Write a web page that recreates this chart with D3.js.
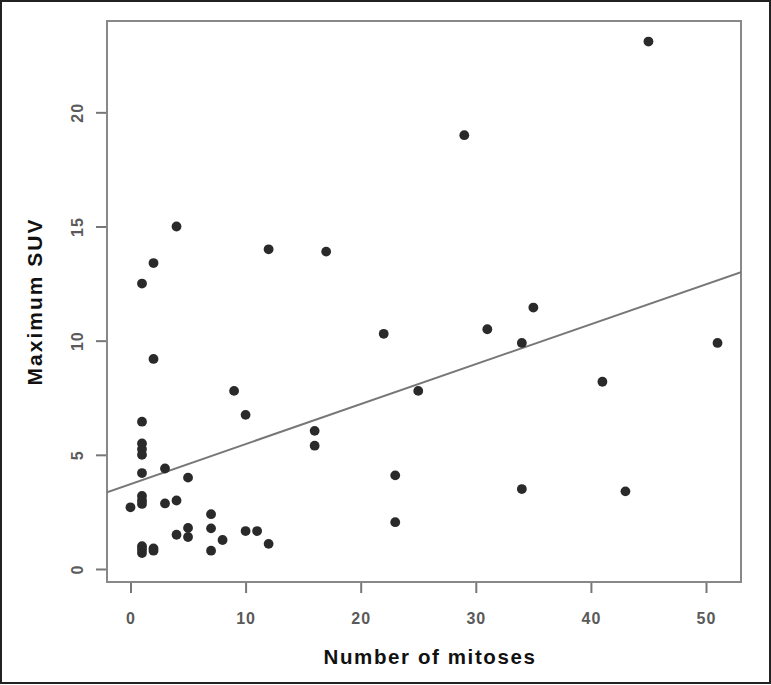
<!DOCTYPE html>
<html>
<head>
<meta charset="utf-8">
<script src="https://cdn.jsdelivr.net/npm/d3@7"></script>
<style>
  body { margin: 0; background: #fff; }
  svg { display: block; }
</style>
</head>
<body>
<div class="canvas"></div>
<script>
// data
var mitoses = [45, 29, 4, 12, 17, 2, 1, 35, 31, 22, 34, 51, 2, 41, 9, 25, 10, 1, 16,
  1, 1, 1, 16, 3, 1, 23, 5, 1, 1, 1, 0, 3, 4, 7, 23, 34, 43,
  5, 7, 5, 4, 8, 10, 11, 12, 7, 1, 1, 1, 2, 2];
var suv = [23.1, 19.0, 15.0, 14.0, 13.9, 13.4, 12.5, 11.45, 10.5, 10.3, 9.9, 9.9, 9.2, 8.2, 7.8, 7.8, 6.75, 6.45, 6.05,
  5.5, 5.25, 5.0, 5.4, 4.4, 4.2, 4.1, 4.0, 3.2, 3.0, 2.85, 2.7, 2.87, 3.0, 2.4, 2.05, 3.5, 3.4,
  1.8, 1.78, 1.4, 1.5, 1.27, 1.66, 1.66, 1.1, 0.8, 1.0, 0.85, 0.7, 0.9, 0.8];
var xTicks = [0, 10, 20, 30, 40, 50];
var yTicks = [0, 5, 10, 15, 20];
var fitLine = { intercept: 3.72, slope: 0.175 };

var W = 771, H = 685;
var box = { left: 107, right: 741, top: 21, bottom: 582 };
var font = "Liberation Sans, Arial, sans-serif";

var svg = d3.select(".canvas").append("svg").attr("width", W).attr("height", H);

// outer frame
svg.append("rect")
    .attr("x", 1).attr("y", 1)
    .attr("width", W - 2).attr("height", H - 3)
    .attr("fill", "#fff")
    .attr("stroke", "#222")
    .attr("stroke-width", 2);

var x = d3.scaleLinear().domain([-2.04, 53.04]).range([box.left, box.right]);
var y = d3.scaleLinear().domain([-0.57, 24.0]).range([box.bottom, box.top]);

// axes, R style: ticks outside the box
var xAxis = svg.append("g")
    .attr("transform", "translate(0," + (box.bottom + 1) + ")")
    .call(d3.axisBottom(x).tickValues(xTicks).tickSize(10).tickSizeOuter(0).tickPadding(20));
xAxis.select(".domain").remove();

var yAxis = svg.append("g")
    .attr("transform", "translate(" + (box.left - 1) + ",0)")
    .call(d3.axisLeft(y).tickValues(yTicks).tickSize(10).tickSizeOuter(0));
yAxis.select(".domain").remove();

svg.selectAll(".tick line").attr("stroke", "#777").attr("stroke-width", 2);
svg.selectAll(".tick text")
    .attr("fill", "#5a5a5a")
    .attr("font-family", font)
    .attr("font-weight", "bold")
    .attr("font-size", "16px")
    .attr("letter-spacing", "1px");

// y tick labels are turned like in R (las = 0)
yAxis.selectAll(".tick text")
    .attr("text-anchor", "middle")
    .attr("transform", "rotate(-90)")
    .attr("x", 0)
    .attr("y", -29)
    .attr("dy", "0.35em");

// plot box
svg.append("rect")
    .attr("x", box.left).attr("y", box.top)
    .attr("width", box.right - box.left).attr("height", box.bottom - box.top)
    .attr("fill", "none")
    .attr("stroke", "#888")
    .attr("stroke-width", 2);

// clip for the fitted line
svg.append("clipPath").attr("id", "plotclip")
  .append("rect")
    .attr("x", box.left).attr("y", box.top)
    .attr("width", box.right - box.left).attr("height", box.bottom - box.top);

var x0 = x.domain()[0], x1 = x.domain()[1];
svg.append("line")
    .attr("clip-path", "url(#plotclip)")
    .attr("x1", x(x0)).attr("y1", y(fitLine.intercept + fitLine.slope * x0))
    .attr("x2", x(x1)).attr("y2", y(fitLine.intercept + fitLine.slope * x1))
    .attr("stroke", "#777")
    .attr("stroke-width", 2);

// points
svg.append("g").selectAll("circle")
    .data(mitoses.map(function(m, i) { return [m, suv[i]]; }))
    .join("circle")
    .attr("cx", function(d) { return x(d[0]); })
    .attr("cy", function(d) { return y(d[1]); })
    .attr("r", 4.9)
    .attr("fill", "#2a2a2a");

// axis titles
svg.append("text")
    .attr("x", 430)
    .attr("y", 664)
    .attr("text-anchor", "middle")
    .attr("font-family", font)
    .attr("font-weight", "bold")
    .attr("font-size", "20.5px")
    .attr("letter-spacing", "1.6px")
    .attr("fill", "#111")
    .text("Number of mitoses");

svg.append("text")
    .attr("transform", "translate(42," + ((box.top + box.bottom) / 2) + ") rotate(-90)")
    .attr("text-anchor", "middle")
    .attr("font-family", font)
    .attr("font-weight", "bold")
    .attr("font-size", "21px")
    .attr("letter-spacing", "2px")
    .attr("fill", "#111")
    .text("Maximum SUV");
</script>
</body>
</html>
